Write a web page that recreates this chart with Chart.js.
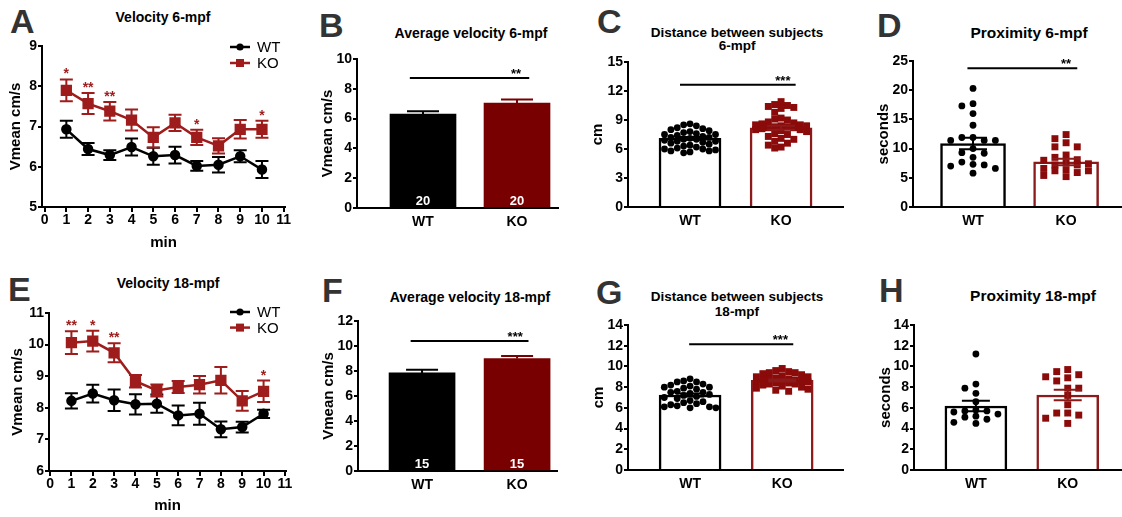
<!DOCTYPE html>
<html>
<head>
<meta charset="utf-8">
<script src="https://cdn.jsdelivr.net/npm/chart.js@4.4.0/dist/chart.umd.min.js"></script>
<style>
html, body { margin: 0; padding: 0; background: #fff; }
body { width: 1122px; height: 517px; overflow: hidden; position: relative; font-family: 'Liberation Sans', Arial, sans-serif; }
canvas { position: absolute; }
.lt { position: absolute; font-weight: bold; font-size: 34px; line-height: 34px; color: #333; }
.ttl { position: absolute; font-weight: bold; font-size: 14px; line-height: 14px; color: #000; transform: translateX(-50%); text-align: center; white-space: nowrap; }
</style>
</head>
<body>
<div class="lt" style="left:10px;top:4px">A</div>
<div class="lt" style="left:319px;top:8px">B</div>
<div class="lt" style="left:597px;top:4px">C</div>
<div class="lt" style="left:877px;top:8px">D</div>
<div class="lt" style="left:8px;top:272px">E</div>
<div class="lt" style="left:322px;top:273px">F</div>
<div class="lt" style="left:596px;top:275px">G</div>
<div class="lt" style="left:879px;top:273px">H</div>

<div class="ttl" style="left:163px;top:10px">Velocity 6-mpf</div>
<div class="ttl" style="left:471px;top:26px">Average velocity 6-mpf</div>
<div class="ttl" style="left:737px;top:26px;font-size:13.5px;line-height:13.4px">Distance between subjects<br>6-mpf</div>
<div class="ttl" style="left:1029px;top:25px;font-size:15.5px;line-height:15.5px">Proximity 6-mpf</div>
<div class="ttl" style="left:168px;top:276px">Velocity 18-mpf</div>
<div class="ttl" style="left:470px;top:290px">Average velocity 18-mpf</div>
<div class="ttl" style="left:737px;top:289px;font-size:13.5px;line-height:15px">Distance between subjects<br>18-mpf</div>
<div class="ttl" style="left:1033px;top:288px;font-size:15.5px;line-height:15.5px">Proximity 18-mpf</div>

<script>
// ---- data ----
const minutes = [1, 2, 3, 4, 5, 6, 7, 8, 9, 10];
const minuteTicks = [0, 1, 2, 3, 4, 5, 6, 7, 8, 9, 10, 11];
const groups = ['WT', 'KO'];
const groupTicks = [1, 2];

// A - velocity 6-mpf
const vel6WT = [6.93, 6.44, 6.29, 6.49, 6.26, 6.29, 6.02, 6.05, 6.26, 5.93];
const vel6WTErr = [0.21, 0.15, 0.12, 0.21, 0.21, 0.21, 0.12, 0.19, 0.15, 0.21];
const vel6KO = [7.90, 7.57, 7.38, 7.16, 6.73, 7.09, 6.73, 6.52, 6.93, 6.93];
const vel6KOErr = [0.27, 0.26, 0.23, 0.26, 0.25, 0.20, 0.19, 0.19, 0.23, 0.21];
const vel6Stars = ['*', '**', '**', '', '', '', '*', '', '', '*'];

// E - velocity 18-mpf
const vel18WT = [8.22, 8.45, 8.24, 8.11, 8.13, 7.76, 7.81, 7.32, 7.39, 7.81];
const vel18WTErr = [0.24, 0.28, 0.34, 0.32, 0.29, 0.31, 0.35, 0.25, 0.17, 0.13];
const vel18KO = [10.06, 10.11, 9.74, 8.84, 8.55, 8.66, 8.73, 8.87, 8.22, 8.52];
const vel18KOErr = [0.36, 0.33, 0.30, 0.20, 0.19, 0.19, 0.28, 0.42, 0.31, 0.34];
const vel18Stars = ['**', '*', '**', '', '', '', '', '', '', '*'];

// B - average velocity 6-mpf
const avgVel6 = [6.31, 7.05];
const avgVel6Err = [0.18, 0.24];
const avgVel6N = ['20', '20'];
const avgVel6Sig = { y: 8.72, x1: 0.86, x2: 2.13, lx: 1.99, label: '**' };

// F - average velocity 18-mpf
const avgVel18 = [7.85, 9.0];
const avgVel18Err = [0.25, 0.2];
const avgVel18N = ['15', '15'];
const avgVel18Sig = { y: 10.4, x1: 0.88, x2: 2.12, lx: 1.98, label: '***' };

// C - distance between subjects 6-mpf
const dist6Mean = [7.1, 8.2];
const dist6Err = [0.15, 0.2];
const dist6WT = [8.6, 8.5, 8.4, 8.2, 8.1, 8.0, 7.9, 7.8, 7.7, 7.6, 7.5, 7.5, 7.4, 7.3, 7.2, 7.2, 7.1, 7.0,
  7.0, 6.9, 6.8, 6.8, 6.7, 6.6, 6.5, 6.4, 6.3, 6.2, 6.1, 6.0, 6.0, 5.9, 5.8, 5.8, 5.7, 5.6];
const dist6KO = [10.9, 10.6, 10.5, 10.4, 10.3, 10.2, 9.8, 9.2, 9.1, 9.0, 8.8, 8.7, 8.6, 8.5, 8.5, 8.4, 8.4, 8.3,
  8.3, 8.2, 8.2, 8.1, 8.0, 8.0, 7.9, 7.8, 7.6, 7.5, 7.3, 7.1, 7.0, 6.8, 6.6, 6.4, 6.2, 6.1];
const dist6Sig = { y: 12.64, x1: 0.89, x2: 2.16, lx: 2.02, label: '***' };

// D - proximity 6-mpf
const prox6Mean = [10.87, 7.72];
const prox6Err = [1.0, 0.55];
const prox6WT = [20.3, 17.7, 17.3, 16.0, 14.0, 11.9, 11.9, 11.4, 11.4, 11.4, 10.0, 9.3, 9.2, 8.5, 7.7, 7.3, 7.2, 7.0, 6.6, 5.8];
const prox6KO = [12.4, 11.7, 11.0, 10.3, 10.3, 8.9, 8.5, 8.1, 8.0, 7.6, 7.4, 7.2, 7.2, 6.6, 6.4, 6.2, 6.2, 5.9, 5.4, 5.2];
const prox6Sig = { y: 23.74, x1: 0.94, x2: 2.12, lx: 2.0, label: '**' };

// G - distance between subjects 18-mpf
const dist18Mean = [7.24, 8.65];
const dist18Err = [0.15, 0.1];
const dist18WT = [8.8, 8.6, 8.5, 8.5, 8.3, 8.2, 8.1, 8.0, 8.0, 7.9, 7.8, 7.6, 7.5, 7.5, 7.4, 7.3, 7.2, 7.1, 7.0,
  6.9, 6.7, 6.6, 6.5, 6.4, 6.3, 6.2, 6.1, 6.1, 6.0, 6.0];
const dist18KO = [9.8, 9.6, 9.5, 9.4, 9.4, 9.3, 9.2, 9.1, 9.0, 9.0, 8.9, 8.8, 8.8, 8.7, 8.7, 8.6, 8.6, 8.5, 8.5,
  8.4, 8.4, 8.3, 8.3, 8.2, 8.1, 8.0, 7.9, 7.8, 7.7, 7.6];
const dist18Sig = { y: 12.13, x1: 0.99, x2: 2.12, lx: 1.98, label: '***' };

// H - proximity 18-mpf
const prox18Mean = [6.18, 7.24];
const prox18Err = [0.5, 0.5];
const prox18WT = [11.2, 8.3, 7.9, 7.4, 6.6, 5.8, 5.7, 5.7, 5.6, 5.4, 5.2, 5.1, 4.9, 4.6, 4.5];
const prox18KO = [9.7, 9.5, 9.2, 9.0, 8.9, 8.6, 7.9, 7.9, 7.2, 6.3, 5.5, 5.5, 5.3, 5.0, 4.5];

// ---- look ----
const FONT = "'Liberation Sans', Arial, sans-serif";
const RED = '#9e1c1c';
const DARK = '#780000';
const DOT_RED = '#8b0a0a';

Chart.defaults.font.family = FONT;
Chart.defaults.font.weight = 'bold';
Chart.defaults.font.size = 14;
Chart.defaults.color = '#000';
Chart.defaults.animation = false;
Chart.defaults.plugins.legend.display = false;
Chart.defaults.plugins.tooltip.enabled = false;

// error bars, drawn behind lines (errBehind) or on top of bars
function drawErrors(chart, behind) {
  const ctx = chart.ctx;
  const ys = chart.scales.y;
  chart.data.datasets.forEach((ds, i) => {
    if (!ds.errors || !!ds.errBehind !== behind) return;
    const meta = chart.getDatasetMeta(i);
    ctx.save();
    ctx.lineWidth = 2;
    meta.data.forEach((el, j) => {
      const v = ds.data[j].y;
      const e = ds.errors[j];
      const x = el.x;
      const top = ys.getPixelForValue(v + e);
      const bot = ys.getPixelForValue(ds.errUpOnly ? v : v - e);
      const cw = ds.capWidth / 2;
      ctx.strokeStyle = Array.isArray(ds.errColor) ? ds.errColor[j] : ds.errColor;
      ctx.beginPath();
      ctx.moveTo(x, top); ctx.lineTo(x, bot);
      ctx.moveTo(x - cw, top); ctx.lineTo(x + cw, top);
      if (!ds.errUpOnly) { ctx.moveTo(x - cw, bot); ctx.lineTo(x + cw, bot); }
      ctx.stroke();
    });
    ctx.restore();
  });
}

const errorBars = {
  id: 'errorBars',
  beforeDatasetsDraw(chart) { drawErrors(chart, true); },
  afterDatasetsDraw(chart) { drawErrors(chart, false); }
};

// stars over points of the line plots, n over the solid bars
const markLabels = {
  id: 'markLabels',
  afterDatasetsDraw(chart) {
    const ctx = chart.ctx;
    const ys = chart.scales.y;
    chart.data.datasets.forEach((ds, i) => {
      const meta = chart.getDatasetMeta(i);
      ctx.save();
      ctx.textAlign = 'center';
      ctx.textBaseline = 'alphabetic';
      if (ds.stars) {
        ctx.font = 'bold 14px ' + FONT;
        ctx.fillStyle = ds.borderColor;
        meta.data.forEach((el, j) => {
          if (!ds.stars[j]) return;
          ctx.fillText(ds.stars[j], el.x, ys.getPixelForValue(ds.data[j].y + ds.errors[j]) - 1);
        });
      }
      if (ds.nLabels) {
        ctx.font = 'bold 13px ' + FONT;
        ctx.fillStyle = '#fff';
        meta.data.forEach((el, j) => {
          ctx.fillText(ds.nLabels[j], el.x, ys.getPixelForValue(0) - 3);
        });
      }
      ctx.restore();
    });
  }
};

const sigBar = {
  id: 'sigBar',
  afterDatasetsDraw(chart, args, o) {
    if (!o || o.y === undefined) return;
    const { ctx, scales: { x, y } } = chart;
    const py = y.getPixelForValue(o.y);
    ctx.save();
    ctx.strokeStyle = '#000';
    ctx.lineWidth = 2;
    ctx.beginPath();
    ctx.moveTo(x.getPixelForValue(o.x1), py);
    ctx.lineTo(x.getPixelForValue(o.x2), py);
    ctx.stroke();
    ctx.font = 'bold 13px ' + FONT;
    ctx.fillStyle = '#000';
    ctx.textAlign = 'center';
    ctx.textBaseline = 'alphabetic';
    ctx.fillText(o.label, x.getPixelForValue(o.lx), py);
    ctx.restore();
  }
};

const lineLegend = {
  id: 'lineLegend',
  afterDraw(chart, args, o) {
    if (!o || o.dx === undefined) return;
    const { ctx, chartArea: a } = chart;
    chart.data.datasets.forEach((ds, i) => {
      const y = a.top + o.dy + i * o.row;
      const x0 = a.right - o.dx;
      ctx.save();
      ctx.strokeStyle = ds.borderColor;
      ctx.fillStyle = ds.borderColor;
      ctx.lineWidth = 2.5;
      ctx.beginPath(); ctx.moveTo(x0, y); ctx.lineTo(x0 + 20, y); ctx.stroke();
      if (ds.pointStyle === 'rect') ctx.fillRect(x0 + 6, y - 4, 8, 8);
      else { ctx.beginPath(); ctx.arc(x0 + 10, y, 3.6, 0, Math.PI * 2); ctx.fill(); }
      ctx.fillStyle = '#000';
      ctx.font = '15px ' + FONT;
      ctx.textAlign = 'left';
      ctx.textBaseline = 'middle';
      ctx.fillText(ds.label, x0 + 27, y + 1);
      ctx.restore();
    });
  }
};

// ---- layout helpers ----
function makeCanvas(p) {
  const c = document.createElement('canvas');
  const left = p.area[0] - p.yW, top = p.area[1] - 16;
  const w = p.area[2] + 12 - left, h = p.area[3] + p.xH + 2 - top;
  c.width = w; c.height = h;
  c.style.left = left + 'px'; c.style.top = top + 'px';
  c.style.width = w + 'px'; c.style.height = h + 'px';
  document.body.appendChild(c);
  return c;
}

function scalesFor(p, yTitle, xTitle, xTicks, xLabel) {
  return {
    x: {
      type: 'linear', min: p.xMin, max: p.xMax, offset: false,
      afterBuildTicks: s => { s.ticks = xTicks.map(v => ({ value: v })); },
      afterFit: s => { s.height = p.xH; },
      ticks: { callback: xLabel, padding: p.xPad, maxRotation: 0, autoSkip: false },
      grid: { drawOnChartArea: false, offset: false, drawTicks: p.xMarks, tickLength: 5, color: '#000', lineWidth: 2 },
      border: { color: '#000', width: 2 },
      title: xTitle ? { display: true, text: xTitle, font: { size: 15, weight: 'bold' }, padding: 0 } : { display: false }
    },
    y: {
      min: p.yMin, max: p.yMax,
      ticks: { stepSize: p.yStep, padding: 1 },
      afterFit: s => { s.width = p.yW; },
      grid: { drawOnChartArea: false, tickLength: 4, color: '#000', lineWidth: 2 },
      border: { color: '#000', width: 2 },
      title: { display: true, text: yTitle, font: { size: 15, weight: 'bold' }, padding: 0 }
    }
  };
}

// beeswarm-like placement of the dots around the group centre
function swarm(values, center, step, cols, gap) {
  const placed = [];
  const offsets = [0];
  for (let k = 1; k <= cols; k++) offsets.push(-k * step, k * step);
  return values.slice().sort((a, b) => b - a).map(v => {
    let best = 0, bestD = -1;
    for (const o of offsets) {
      const d = Math.min(Infinity, ...placed.filter(q => q.o === o).map(q => Math.abs(q.y - v)));
      if (d >= gap) { best = o; break; }
      if (d > bestD) { bestD = d; best = o; }
    }
    placed.push({ o: best, y: v });
    return { x: center + best, y: v };
  });
}

function linePanel(p, t) {
  const pts = vals => minutes.map((m, i) => ({ x: m, y: vals[i] }));
  new Chart(makeCanvas(p), {
    type: 'line',
    data: {
      datasets: [
        { label: 'WT', data: pts(t.wt), borderColor: '#000', backgroundColor: '#000', borderWidth: 2.5,
          pointStyle: 'circle', pointRadius: 4, errors: t.wtErr, errColor: '#000', capWidth: 13, errBehind: true },
        { label: 'KO', data: pts(t.ko), borderColor: RED, backgroundColor: RED, borderWidth: 2.5,
          pointStyle: 'rect', pointRadius: 6.2, errors: t.koErr, errColor: RED, capWidth: 13, errBehind: true, stars: t.stars }
      ]
    },
    options: {
      responsive: false,
      layout: { padding: { left: 0, top: 16, right: 12, bottom: 2 } },
      scales: scalesFor(p, 'Vmean cm/s', 'min', minuteTicks, v => String(v)),
      plugins: { lineLegend: t.legend }
    },
    plugins: [errorBars, markLabels, lineLegend]
  });
}

function barPanel(p, t) {
  const ds = [];
  const solid = !t.wt;
  if (!solid) {
    ds.push({ type: 'scatter', data: swarm(t.wt, 1, p.step, p.cols, p.gap), pointStyle: 'circle', pointRadius: 3.4,
      backgroundColor: '#000', borderWidth: 0, order: 1 });
    ds.push({ type: 'scatter', data: swarm(t.ko, 2, p.step, p.cols, p.gap), pointStyle: 'rect', pointRadius: 4.9,
      backgroundColor: DOT_RED, borderWidth: 0, order: 1 });
  }
  const edge = solid ? ['#000', DARK] : ['#000', '#8b1a1a'];
  ds.push({
    type: 'bar', data: t.means.map((m, i) => ({ x: groupTicks[i], y: m })), barThickness: p.barW,
    backgroundColor: solid ? edge : ['#fff', '#fff'], borderColor: edge, borderWidth: solid ? 0 : 2.5,
    borderSkipped: 'start', order: 2,
    errors: t.errs, errColor: edge, errUpOnly: solid, capWidth: solid ? 32 : 28, nLabels: t.n
  });
  new Chart(makeCanvas(p), {
    type: 'bar',
    data: { datasets: ds },
    options: {
      responsive: false,
      layout: { padding: { left: 0, top: 16, right: 12, bottom: 2 } },
      scales: scalesFor(p, t.yTitle, null, groupTicks, v => groups[v - 1]),
      plugins: { sigBar: t.sig || {} }
    },
    plugins: [errorBars, markLabels, sigBar]
  });
}

// ---- panels ----
linePanel({ area: [42, 46, 285, 207], yW: 35, xH: 45, xMin: -0.12, xMax: 11.06, yMin: 5, yMax: 9, yStep: 1, xPad: 0, xMarks: true },
  { wt: vel6WT, wtErr: vel6WTErr, ko: vel6KO, koErr: vel6KOErr, stars: vel6Stars, legend: { dx: 55, dy: 1, row: 16 } });

linePanel({ area: [49, 313, 286, 471], yW: 40, xH: 44, xMin: -0.05, xMax: 11.05, yMin: 6, yMax: 11, yStep: 1, xPad: 0, xMarks: true },
  { wt: vel18WT, wtErr: vel18WTErr, ko: vel18KO, koErr: vel18KOErr, stars: vel18Stars, legend: { dx: 56, dy: -1, row: 15.6 } });

barPanel({ area: [357, 59, 558, 208], yW: 38, xH: 25, xMin: 0.298, xMax: 2.436, yMin: 0, yMax: 10, yStep: 2, xPad: 6, xMarks: false, barW: 66 },
  { means: avgVel6, errs: avgVel6Err, n: avgVel6N, yTitle: 'Vmean cm/s', sig: avgVel6Sig });

barPanel({ area: [358, 321, 557, 471], yW: 38, xH: 25, xMin: 0.326, xMax: 2.42, yMin: 0, yMax: 12, yStep: 2, xPad: 6, xMarks: false, barW: 66 },
  { means: avgVel18, errs: avgVel18Err, n: avgVel18N, yTitle: 'Vmean cm/s', sig: avgVel18Sig });

barPanel({ area: [628, 62, 843, 207], yW: 39, xH: 25, xMin: 0.319, xMax: 2.68, yMin: 0, yMax: 15, yStep: 3, xPad: 6, xMarks: false, barW: 62,
  step: 0.07, cols: 4, gap: 0.7 },
  { means: dist6Mean, errs: dist6Err, wt: dist6WT, ko: dist6KO, yTitle: 'cm', sig: dist6Sig });

barPanel({ area: [913, 61, 1121, 207], yW: 38, xH: 25, xMin: 0.355, xMax: 2.59, yMin: 0, yMax: 25, yStep: 5, xPad: 6, xMarks: false, barW: 65,
  step: 0.12, cols: 2, gap: 1.2 },
  { means: prox6Mean, errs: prox6Err, wt: prox6WT, ko: prox6KO, yTitle: 'seconds', sig: prox6Sig });

barPanel({ area: [628, 325, 843, 470], yW: 38, xH: 25, xMin: 0.326, xMax: 2.66, yMin: 0, yMax: 14, yStep: 2, xPad: 6, xMarks: false, barW: 62,
  step: 0.07, cols: 4, gap: 0.65 },
  { means: dist18Mean, errs: dist18Err, wt: dist18WT, ko: dist18KO, yTitle: 'cm', sig: dist18Sig });

barPanel({ area: [914, 325, 1121, 470], yW: 37, xH: 25, xMin: 0.326, xMax: 2.58, yMin: 0, yMax: 14, yStep: 2, xPad: 6, xMarks: false, barW: 62,
  step: 0.12, cols: 2, gap: 0.7 },
  { means: prox18Mean, errs: prox18Err, wt: prox18WT, ko: prox18KO, yTitle: 'seconds' });
</script>
</body>
</html>
